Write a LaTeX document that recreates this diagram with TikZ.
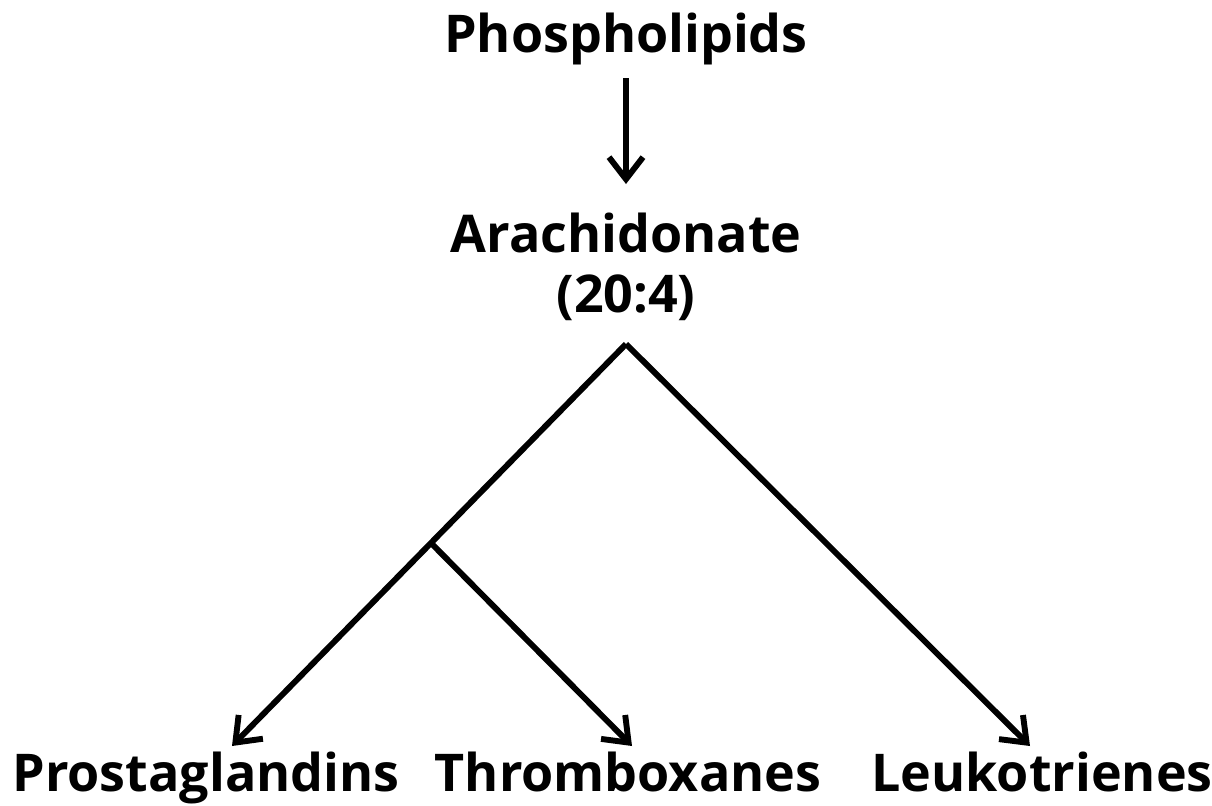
\documentclass[tikz,border=0pt]{standalone}
\usepackage{fontspec}
\setmainfont{Open Sans}
\usetikzlibrary{arrows.meta}
\tikzstyle{compound}=[font=\fontsize{37}{42}\selectfont\bfseries, inner sep=0pt, anchor=base, align=center]
\tikzstyle{conversion}=[line width=4.2pt, -{Straight Barb[length=0.55cm, width=0.85cm]}]

\begin{document}
\begin{tikzpicture}[x=0.025cm, y=-0.025cm]
				\useasboundingbox (0,0) rectangle (1212,805);
				\node[compound] (phos) at (626,52) {Phospholipids};
				\node[compound] (arach) at (626,312) {Arachidonate\\(20:4)};
				\node[compound] (prost) at (206,791) {Prostaglandins};
				\node[compound] (thromb) at (628,791) {Thromboxanes};
				\node[compound] (leuko) at (1042,791) {Leukotrienes};
				\coordinate (phosOut) at (626,78);
				\coordinate (arachIn) at (626,184);
				\coordinate (apex) at (626,344);
				\coordinate (fork) at (431,543);
				\coordinate (prostIn) at (232,746);
				\coordinate (thrombIn) at (632,746);
				\coordinate (leukoIn) at (1030,746);
				\draw[conversion] (phosOut) -- (arachIn);
				\draw[conversion] (apex) -- (leukoIn);
				\draw[conversion] (apex) -- (prostIn);
				\draw[conversion] (fork) -- (thrombIn);
			\end{tikzpicture}
\end{document}
